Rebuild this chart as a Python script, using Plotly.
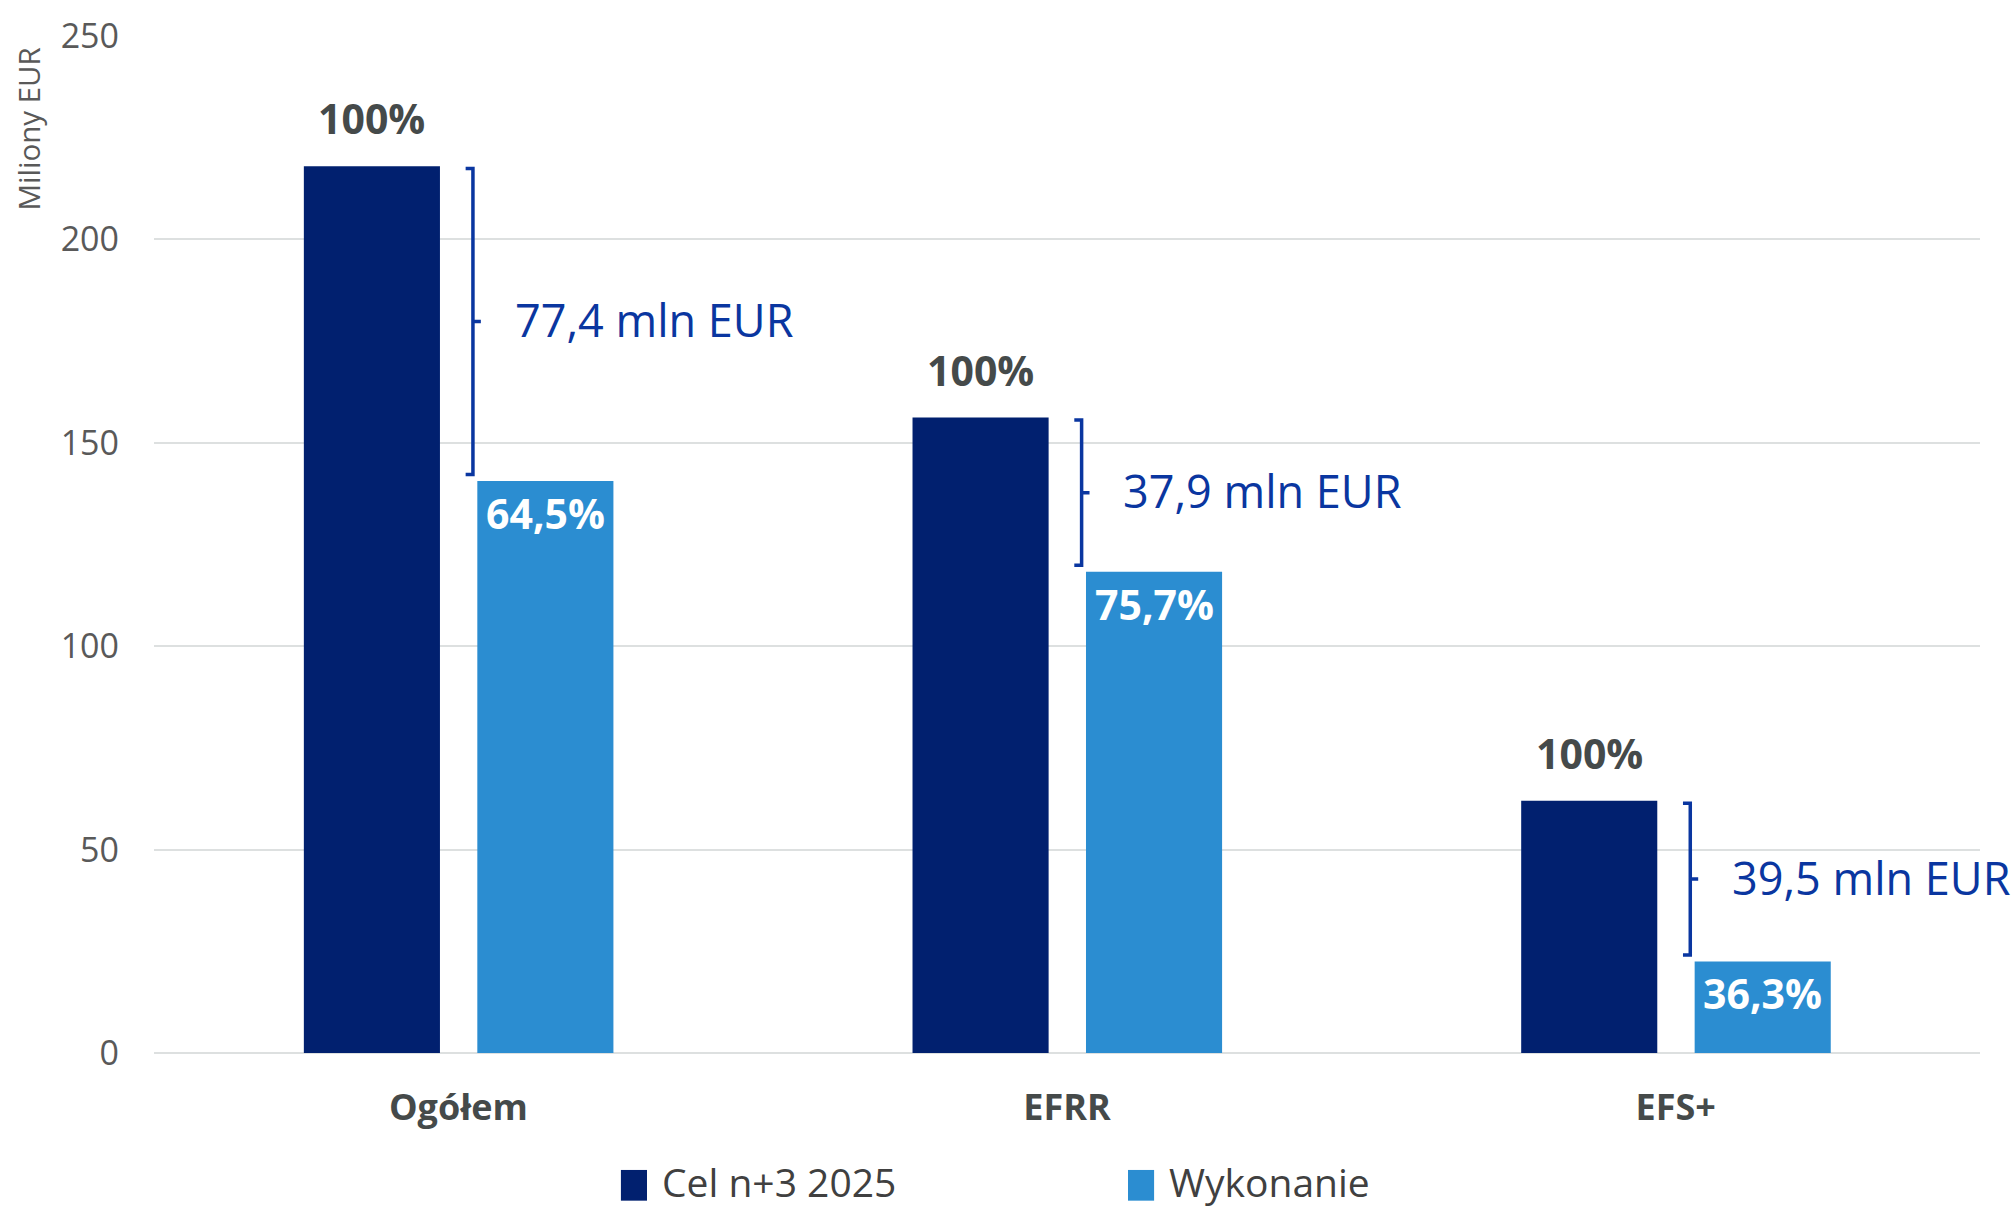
import plotly.graph_objects as go

categories = ["Ogółem", "EFRR", "EFS+"]
series_names = ["Cel n+3 2025", "Wykonanie"]
target_values = [218.0, 156.2, 62.0]
actual_values = [140.6, 118.3, 22.5]
y_ticks = [0, 50, 100, 150, 200, 250]
y_title = "Miliony EUR"

NAVY = "#01206F"
LIGHT = "#2B8DD1"
BRACE = "#0A36A0"
DARK_TXT = "#454A4A"
GRAY_TXT = "#595959"
FONT = "Open Sans"

BAR_W = 0.2236
OFF_T = -0.2538
OFF_A = 0.0312

x_idx = list(range(len(categories)))

fig = go.Figure()
fig.add_trace(go.Bar(x=x_idx, y=target_values, name=series_names[0], width=BAR_W, offset=OFF_T,
                     marker=dict(color=NAVY, line=dict(width=0)), showlegend=False, hoverinfo="y"))
fig.add_trace(go.Bar(x=x_idx, y=actual_values, name=series_names[1], width=BAR_W, offset=OFF_A,
                     marker=dict(color=LIGHT, line=dict(width=0)), showlegend=False, hoverinfo="y"))

def fmt(v):
    return f"{v:.1f}".replace(".", ",")

annotations = []
shapes = []
for i, (t, a) in enumerate(zip(target_values, actual_values)):
    # 100% label above target bar
    annotations.append(dict(x=i + OFF_T + BAR_W / 2, y=t, xref="x", yref="y", text="<b>100%</b>",
                            showarrow=False, yanchor="bottom", yshift=18,
                            font=dict(family=FONT, size=41, color=DARK_TXT)))
    # percentage inside actual bar
    annotations.append(dict(x=i + OFF_A + BAR_W / 2, y=a, xref="x", yref="y",
                            text="<b>" + fmt(a / t * 100) + "%</b>",
                            showarrow=False, yanchor="top", yshift=-2,
                            font=dict(family=FONT, size=41, color="white")))
    # bracket
    xl = i + 0.024
    xh = xl - 0.012
    xt = xl + 0.013
    yt = t - 0.6
    yb = a + 1.6
    ym = (yt + yb) / 2
    shapes.append(dict(type="path", xref="x", yref="y",
                       path=f"M {xh},{yt} L {xl},{yt} L {xl},{yb} L {xh},{yb} M {xl},{ym} L {xt},{ym}",
                       line=dict(color=BRACE, width=3.5)))
    annotations.append(dict(x=i + 0.089, y=ym, xref="x", yref="y", text=fmt(t - a) + " mln EUR",
                            showarrow=False, xanchor="left", yanchor="middle", yshift=2,
                            font=dict(family=FONT, size=45, color=BRACE)))

# y-axis title at top
annotations.append(dict(x=-0.0685, y=0.909, xref="paper", yref="paper", text=y_title, textangle=-90,
                        showarrow=False, xanchor="center", yanchor="middle",
                        font=dict(family=FONT, size=29.5, color=GRAY_TXT)))

# manual legend
legend_items = [(series_names[0], NAVY, 0.2557), (series_names[1], LIGHT, 0.5334)]
for name, col, x0 in legend_items:
    shapes.append(dict(type="rect", xref="paper", yref="paper", x0=x0, x1=x0 + 0.0143,
                       y0=-0.1452, y1=-0.1150, fillcolor=col, line=dict(width=0)))
    annotations.append(dict(x=x0 + 0.0214, y=-0.1262, xref="paper", yref="paper", text=name,
                            showarrow=False, xanchor="left", yanchor="middle",
                            font=dict(family=FONT, size=39, color="#404040")))

fig.update_layout(
    width=2013, height=1209,
    margin=dict(l=154, r=33, t=27, b=156),
    paper_bgcolor="white", plot_bgcolor="white",
    barmode="overlay",
    showlegend=False,
    font=dict(family=FONT, color=GRAY_TXT),
    annotations=annotations,
    shapes=shapes,
    xaxis=dict(range=[-0.5, 2.5], tickmode="array", tickvals=x_idx, ticktext=categories,
               showgrid=False, zeroline=False, showline=False, ticks="",
               tickfont=dict(family=FONT, size=36, color=DARK_TXT, weight="bold"),
               ticklabelstandoff=30),
    yaxis=dict(range=[0, 250], tickmode="array", tickvals=y_ticks,
               showgrid=True, gridcolor="#DDE0E0", gridwidth=2,
               zeroline=True, zerolinecolor="#DDE0E0", zerolinewidth=2,
               showline=False, ticks="",
               tickfont=dict(family=FONT, size=34, color=GRAY_TXT),
               ticklabelstandoff=34),
)

fig.write_html("out.html", config={"displayModeBar": False},
               post_script="document.body.style.margin='0';document.body.style.padding='0';"
                           "document.body.style.overflow='hidden';")
